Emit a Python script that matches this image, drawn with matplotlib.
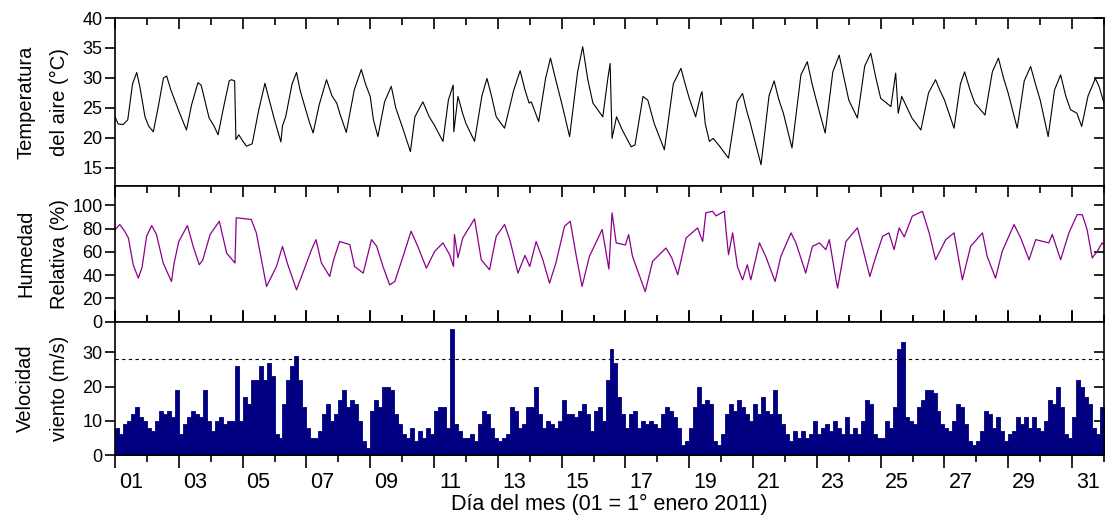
import numpy as np
import matplotlib
matplotlib.use("Agg")
import matplotlib.pyplot as plt

plt.rcParams['font.family'] = ['Liberation Sans', 'DejaVu Sans']

# ---------------- data ----------------
temp_day = [0.0, 0.1, 0.25, 0.4, 0.55, 0.68, 0.78, 0.94, 1.05, 1.2, 1.35, 1.52, 1.62, 1.75,
            2.02, 2.15, 2.24, 2.4, 2.6, 2.7, 2.95, 3.1, 3.23, 3.4, 3.58, 3.65, 3.75, 3.79,
            3.88, 4.0, 4.12, 4.3, 4.5, 4.7, 4.85, 5.0, 5.2, 5.25, 5.35, 5.55, 5.69, 5.8,
            5.95, 6.1, 6.21, 6.4, 6.63, 6.8, 6.95, 7.05, 7.25, 7.5, 7.72, 7.85, 8.0, 8.1,
            8.24, 8.45, 8.66, 8.8, 9.0, 9.26, 9.4, 9.65, 9.85, 10.0, 10.28, 10.45, 10.6,
            10.62, 10.75, 10.9, 11.0, 11.27, 11.5, 11.66, 11.8, 11.95, 12.21, 12.5, 12.7,
            12.85, 12.98, 13.05, 13.28, 13.5, 13.65, 13.8, 14.0, 14.25, 14.5, 14.66, 14.82,
            14.98, 15.29, 15.45, 15.52, 15.58, 15.72, 15.9, 16.18, 16.3, 16.55, 16.7, 16.9,
            17.22, 17.5, 17.74, 17.87, 18.0, 18.2, 18.35, 18.4, 18.5, 18.63, 18.75, 18.95,
            19.23, 19.5, 19.67, 19.8, 19.9, 20.25, 20.5, 20.66, 20.8, 20.95, 21.22, 21.5,
            21.7, 21.85, 21.98, 22.26, 22.5, 22.7, 22.85, 23.0, 23.27, 23.5, 23.69, 23.85,
            24.0, 24.32, 24.47, 24.55, 24.66, 24.98, 25.26, 25.5, 25.72, 25.85, 26.0, 26.3,
            26.5, 26.63, 26.8, 26.95, 27.27, 27.5, 27.69, 27.85, 28.0, 28.28, 28.5, 28.7,
            28.85, 29.0, 29.25, 29.45, 29.64, 29.8, 29.95, 30.15, 30.3, 30.5, 30.73, 30.85,
            31.0]
temp_val = [23.5, 22.3, 22.2, 23.0, 29.0, 30.9, 28.5, 23.5, 22.0, 21.0, 25.0, 30.0, 30.3, 28.0,
            24.2, 22.5, 21.3, 25.5, 29.2, 28.8, 23.3, 22.0, 20.5, 25.0, 29.5, 29.7, 29.5, 19.7,
            20.5, 19.5, 18.6, 19.0, 24.5, 29.1, 26.0, 23.0, 19.3, 22.0, 23.5, 29.0, 30.9, 28.0,
            25.2, 22.5, 20.8, 25.5, 29.7, 27.0, 25.8, 24.0, 20.9, 28.0, 31.4, 29.0, 26.9, 23.0,
            20.2, 26.0, 28.6, 25.0, 21.9, 17.7, 23.5, 26.0, 23.5, 22.2, 19.4, 26.3, 28.8,
            21.0, 26.9, 24.0, 22.4, 19.4, 27.0, 29.9, 27.0, 23.5, 21.6, 28.0, 31.2,
            28.0, 25.8, 26.0, 22.7, 30.0, 33.3, 30.0, 25.8, 20.2, 31.0, 35.2, 29.7,
            25.8, 23.5, 30.0, 32.4, 19.9, 23.5, 21.3, 18.5, 18.8, 26.9, 26.3, 22.4,
            18.0, 29.0, 31.6, 29.0, 26.6, 23.5, 27.0, 27.7, 22.4, 19.4, 19.9, 18.6,
            16.6, 26.0, 27.4, 24.5, 22.7, 15.5, 27.0, 29.5, 26.5, 24.1, 18.3, 30.5,
            32.7, 29.0, 26.3, 20.8, 31.0, 33.8, 30.0, 26.3, 23.3, 32.0, 34.1, 30.0,
            26.6, 25.2, 30.8, 24.1, 26.9, 23.3, 21.3, 27.5, 29.7, 28.0, 26.3, 21.6,
            29.0, 31.0, 28.0, 25.8, 23.8, 31.0, 33.3, 30.0, 27.4, 21.6, 29.5, 31.9,
            29.0, 26.3, 20.2, 28.0, 30.5, 27.0, 24.7, 24.1, 21.9, 27.0, 29.9, 28.5,
            25.8]

hum_day = [0.0, 0.15, 0.3, 0.42, 0.57, 0.73, 0.85, 0.99, 1.15, 1.3, 1.51, 1.77, 1.85, 2.0,
           2.27, 2.45, 2.64, 2.75, 2.98, 3.27, 3.5, 3.76, 3.8, 4.27, 4.43, 4.75, 5.06, 5.25,
           5.4, 5.69, 6.16, 6.3, 6.47, 6.73, 6.85, 7.04, 7.36, 7.51, 7.78, 8.04, 8.2, 8.4,
           8.61, 8.77, 9.03, 9.28, 9.49, 9.76, 10.02, 10.28, 10.49, 10.61, 10.64, 10.75,
           10.9, 11.27, 11.48, 11.74, 11.95, 12.21, 12.38, 12.63, 12.85, 13.0, 13.2, 13.41,
           13.62, 13.82, 14.09, 14.27, 14.46, 14.64, 14.87, 15.27, 15.48, 15.58, 15.71, 16.0,
           16.1, 16.22, 16.62, 16.85, 17.27, 17.45, 17.64, 17.9, 18.26, 18.42, 18.52, 18.73,
           18.84, 19.1, 19.15, 19.23, 19.36, 19.51, 19.67, 19.82, 19.93, 20.2, 20.4, 20.69,
           20.87, 21.19, 21.34, 21.55, 21.65, 21.86, 22.08, 22.28, 22.39, 22.6, 22.65, 22.91,
           23.27, 23.43, 23.66, 23.85, 24.06, 24.26, 24.42, 24.58, 24.74, 24.99, 25.31, 25.52,
           25.72, 26.04, 26.3, 26.56, 26.82, 27.19, 27.34, 27.6, 27.81, 28.18, 28.39, 28.65,
           28.86, 29.27, 29.38, 29.64, 29.9, 30.16, 30.32, 30.47, 30.63, 30.79, 30.94, 31.0]
hum_val = [79, 83.6, 78, 72, 49, 37.5, 47, 73.5, 82.7, 75, 50.5, 34.6, 50, 69,
           82.7, 64.8, 49, 53, 75, 86.4, 59, 50.5, 89.4, 88, 76.4, 30.3, 47.5, 64.8,
           50.5, 27.4, 62, 70.6, 50.5, 38.9, 53, 69, 66.3, 47.5, 41.8, 70.6, 65, 47.5,
           31.7, 34.6, 56.2, 77.8, 64.8, 46.1, 60.5, 67.8, 57.6, 47.5, 75, 55,
           72, 88.5, 53.3, 44.7, 73.5, 83.6, 70, 41.8, 57, 47.5, 69, 53.3,
           33.2, 50.5, 82.1, 86.4, 56.2, 30.3, 56.2, 79.3, 45.3, 93.7, 67.8, 66,
           75, 56.2, 25.9, 51.9, 63.4, 55, 40.4, 72, 80.7, 69, 93.7, 95,
           91, 95, 79.3, 57.6, 76.4, 47.5, 36, 49, 36, 67.8, 56, 34.6,
           56.2, 76.4, 68, 50.5, 41.8, 64.8, 67.8, 62, 70.6, 36, 28.9, 69,
           80.7, 64, 38.9, 56, 73.5, 76.4, 62, 80.7, 73, 90.8, 95, 76.4,
           53.3, 70.6, 76.4, 36, 64.8, 76.4, 56, 37.5, 60.5, 83.6, 72, 53.3,
           70.6, 67.8, 75, 53.3, 76.4, 92.2, 92, 79.3, 54.8, 60.5, 67.8, 66]

# wind speed, 3-hour maxima (8 per day)
wind_peak = [
    8, 6, 9, 10, 12, 14, 11, 10,
    8, 7, 10, 13, 12, 13, 11, 19,
    6, 9, 11, 13, 12, 11, 19, 10,
    7, 10, 11, 9, 10, 10, 26, 10,
    17, 15, 22, 22, 26, 22, 27, 23,
    6, 5, 15, 22, 26, 29, 22, 14,
    8, 5, 5, 7, 12, 15, 10, 12,
    16, 19, 14, 16, 15, 10, 4, 2,
    13, 16, 14, 20, 20, 19, 12, 9,
    6, 5, 8, 4, 7, 5, 8, 6,
    13, 14, 14, 8, 37, 9, 7, 5,
    5, 6, 4, 9, 13, 12, 8, 5,
    4, 5, 6, 14, 13, 8, 9, 14,
    14, 20, 12, 8, 10, 9, 8, 10,
    16, 12, 12, 11, 13, 15, 12, 7,
    13, 14, 10, 22, 31, 27, 17, 12,
    8, 12, 13, 8, 10, 9, 10, 9,
    8, 12, 14, 13, 11, 8, 3, 4,
    8, 14, 20, 15, 16, 15, 4, 3,
    6, 12, 15, 13, 16, 14, 12, 10,
    15, 12, 17, 13, 12, 19, 12, 9,
    6, 4, 7, 5, 7, 5, 6, 10,
    6, 8, 9, 7, 10, 8, 6, 11,
    6, 8, 6, 10, 16, 15, 6, 5,
    5, 10, 8, 14, 31, 33, 11, 10,
    9, 14, 16, 19, 19, 18, 13, 9,
    8, 7, 10, 15, 14, 9, 4, 3,
    4, 7, 13, 12, 8, 11, 7, 4,
    6, 7, 11, 9, 11, 8, 11, 8,
    7, 10, 16, 15, 20, 14, 6, 5,
    11, 22, 20, 17, 15, 8, 6, 14,
]
wind_threshold = 28

day_labels = ["01", "03", "05", "07", "09", "11", "13", "15", "17", "19", "21",
              "23", "25", "27", "29", "31"]

# ---------------- figure ----------------
W, H = 1107, 516
fig = plt.figure(figsize=(W / 100, H / 100), dpi=100)

def px_axes(x0, y0, x1, y1):
    return fig.add_axes([x0 / W, 1 - y1 / H, (x1 - x0) / W, (y1 - y0) / H])

ax1 = px_axes(115, 18, 1104, 185.7)
ax2 = px_axes(115, 185.7, 1104, 321.7)
ax3 = px_axes(115, 321.7, 1104, 455)

ax1.plot(temp_day, temp_val, color='black', lw=0.8)
ax1.set_ylim(12, 40)
ax1.set_yticks([15, 20, 25, 30, 35, 40])

ax2.plot(hum_day, hum_val, color='#8b008b', lw=0.9)
ax2.set_ylim(0, 117)
ax2.set_yticks([0, 20, 40, 60, 80, 100])

n = len(wind_peak)
t = np.arange(n + 1) / 8.0
w = np.append(wind_peak, wind_peak[-1])
ax3.fill_between(t, 0, w, step='post', color='#000080', lw=0.6)
ax3.axhline(wind_threshold, color='black', lw=0.8, ls=(0, (3, 3)))
ax3.set_ylim(0, 39)
ax3.set_yticks([0, 10, 20, 30])

labels = ["Temperatura\ndel aire (°C)", "Humedad\nRelativa (%)", "Velocidad\nviento (m/s)"]
for ax, lab in zip([ax1, ax2, ax3], labels):
    ax.set_xlim(0, 31)
    ax.set_xticks(np.arange(0, 32, 2))
    ax.set_xticks(np.arange(1, 32, 2), minor=True)
    ax.tick_params(axis='x', which='both', top=True, bottom=True, direction='in',
                   labelbottom=False, width=1.2)
    ax.tick_params(axis='x', which='major', length=8)
    ax.tick_params(axis='x', which='minor', length=5)
    ax.tick_params(axis='y', which='major', left=True, length=7, width=1.2,
                   direction='out', labelsize=13, pad=2)
    for s in ax.spines.values():
        s.set_linewidth(1.2)
    ax.set_ylabel(lab, fontsize=14.5, va='center', ha='center')
    ax.yaxis.label.set_linespacing(2.0)
    ax.yaxis.set_label_coords(-0.073, 0.5)

# right-side inward y ticks
for ax in [ax1, ax2, ax3]:
    r = ax.secondary_yaxis('right')
    r.set_yticks(ax.get_yticks())
    r.tick_params(direction='in', length=7, width=1.2, labelright=False)
    r.spines['right'].set_visible(False)

ax1.tick_params(axis='x', which='both', bottom=False)
ax3.tick_params(axis='x', which='both', direction='out', bottom=True)
ax3.tick_params(axis='x', which='major', length=9)
ax3.tick_params(axis='x', which='minor', length=5)

sec = ax3.secondary_xaxis('bottom')
sec.set_xticks(np.arange(0.5, 31, 2), day_labels)
sec.tick_params(length=0, labelsize=15.5, pad=12)
sec.spines['bottom'].set_visible(False)
sec.set_xlabel("Día del mes (01 = 1° enero 2011)", fontsize=15.5, labelpad=1)

fig.savefig("out.png", dpi=100)
